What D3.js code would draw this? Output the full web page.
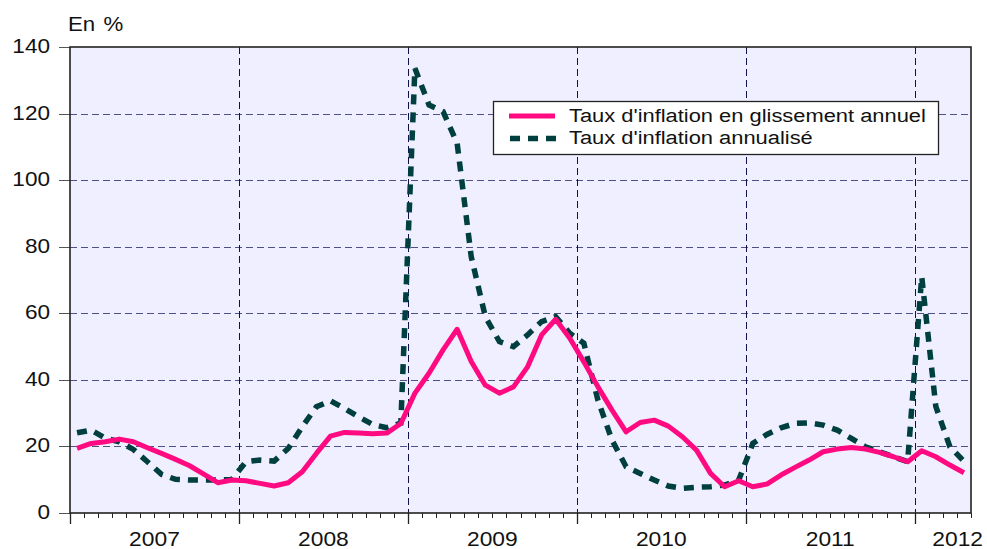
<!DOCTYPE html>
<html>
<head>
<meta charset="utf-8">
<script src="https://cdn.jsdelivr.net/npm/d3@7"></script>
<style>
  body { margin: 0; background: #fff; }
  text { font-family: "Liberation Sans", Arial, sans-serif; fill: #111; }
</style>
</head>
<body>
<svg id="chart" width="987" height="549"></svg>
<script>
// monthly series, jan 2007 -> apr 2012
var years = ["2007", "2008", "2009", "2010", "2011", "2012"];
var yTicks = [0, 20, 40, 60, 80, 100, 120, 140];

var glissement = [
  19.4, 20.9, 21.4, 22.2, 21.4, 19.6, 17.9, 16.1, 14.2, 11.7, 9.1, 9.9,
  9.7, 8.9, 8.1, 9.1, 12.4, 17.9, 23.1, 24.2, 24.0, 23.8, 24.0, 26.9,
  36.0, 42.0, 49.0, 55.2, 45.5, 38.4, 36.0, 37.9, 43.9, 53.5, 58.2, 52.5,
  45.4, 37.9, 30.9, 24.4, 27.2, 27.9, 26.1, 22.9, 18.9, 11.9, 7.9, 9.7,
  7.9, 8.7, 11.4, 13.7, 15.9, 18.4, 19.2, 19.7, 19.2, 18.2, 16.9, 15.4,
  18.7, 16.9, 14.4, 12.1
];
var annualise = [
  24.1, 24.9, 22.5, 21.4, 19.1, 15.4, 11.6, 10.1, 9.9, 9.9, 9.9, 10.1,
  15.4, 15.9, 15.6, 19.4, 25.9, 31.9, 33.7, 31.4, 28.9, 26.6, 25.6, 27.0,
  133.6, 122.6, 120.6, 111.1, 77.0, 59.0, 51.5, 50.0, 53.5, 57.5, 59.0, 54.0,
  51.0, 33.9, 21.9, 13.9, 11.9, 9.9, 8.1, 7.4, 7.7, 7.9, 8.4, 9.9,
  20.9, 23.6, 25.6, 26.9, 27.1, 26.4, 24.9, 22.4, 19.9, 18.4, 16.9, 15.4,
  71.0, 32.0, 19.9, 15.5
];
var seriesNames = ["Taux d'inflation en glissement annuel", "Taux d'inflation annualisé"];

var W = 987, H = 549;
var plotL = 70, plotR = 971, plotT = 47, plotB = 513;
var SX = 1.14; // text is drawn a bit wider than the font
var PINK = "#ff0a80", TEAL = "#003f3f";

var svg = d3.select("#chart");
var nMonths = glissement.length;

var x = d3.scaleLinear().domain([0, nMonths]).range([plotL, plotR]);
var y = d3.scaleLinear().domain([0, 140]).range([plotB, plotT]);

function wideText(g, px, py, txt, anchor, size) {
  return g.append("text")
    .attr("transform", "translate(" + px + "," + py + ") scale(" + SX + ",1)")
    .attr("text-anchor", anchor)
    .style("font-size", size + "px")
    .text(txt);
}

// plot background
svg.append("rect")
  .attr("x", plotL).attr("y", plotT)
  .attr("width", plotR - plotL).attr("height", plotB - plotT)
  .attr("fill", "#efefff");

// horizontal grid
svg.append("g").selectAll("line")
  .data(yTicks.filter(function(d){ return d > 0 && d < 140; }))
  .enter().append("line")
  .attr("x1", plotL).attr("x2", plotR)
  .attr("y1", function(d){ return Math.round(y(d)) + 0.5; })
  .attr("y2", function(d){ return Math.round(y(d)) + 0.5; })
  .attr("stroke", "#505088")
  .attr("stroke-dasharray", "7,4");

// vertical grid at year starts
svg.append("g").selectAll("line")
  .data(d3.range(1, years.length))
  .enter().append("line")
  .attr("x1", function(d){ return Math.round(x(d * 12)) + 0.5; })
  .attr("x2", function(d){ return Math.round(x(d * 12)) + 0.5; })
  .attr("y1", plotT).attr("y2", plotB)
  .attr("stroke", "#10104a")
  .attr("stroke-dasharray", "7,4");

// y axis ticks + labels
var yAx = svg.append("g");
yAx.selectAll("line")
  .data(yTicks)
  .enter().append("line")
  .attr("x1", plotL - 11).attr("x2", plotL)
  .attr("y1", function(d){ return Math.round(y(d)) + 0.5; })
  .attr("y2", function(d){ return Math.round(y(d)) + 0.5; })
  .attr("stroke", "#555");
yTicks.forEach(function(d) {
  wideText(yAx, 50, y(d) + 6, String(d), "end", 19.8);
});

// x axis month ticks
var xAx = svg.append("g");
xAx.selectAll("line")
  .data(d3.range(0, nMonths + 1))
  .enter().append("line")
  .attr("x1", function(d){ return Math.round(x(d)) + 0.5; })
  .attr("x2", function(d){ return Math.round(x(d)) + 0.5; })
  .attr("y1", plotB)
  .attr("y2", function(d){ return d % 12 === 0 ? plotB + 11 : plotB + 5; })
  .attr("stroke", "#222")
  .attr("stroke-width", function(d){ return d % 12 === 0 ? 1.3 : 1; });

var yearBase = 545.5;
years.forEach(function(yr, i) {
  var t = wideText(xAx, 0, yearBase, yr, "middle", 20);
  var w = t.node().getComputedTextLength() * SX;
  var cx = Math.min(x(i * 12 + 6), W - 4 - w / 2);
  t.attr("transform", "translate(" + cx + "," + yearBase + ") scale(" + SX + ",1)");
});

// frame
svg.append("rect")
  .attr("x", plotL).attr("y", plotT)
  .attr("width", plotR - plotL).attr("height", plotB - plotT)
  .attr("fill", "none")
  .attr("stroke", "#222")
  .attr("stroke-width", 1.6);

// series
var line = d3.line()
  .x(function(d, i){ return x(i + 0.5); })
  .y(function(d){ return y(d); });

svg.append("path")
  .datum(annualise)
  .attr("d", line)
  .attr("fill", "none")
  .attr("stroke", TEAL)
  .attr("stroke-width", 5.5)
  .attr("stroke-dasharray", "10,8");

svg.append("path")
  .datum(glissement)
  .attr("d", line)
  .attr("fill", "none")
  .attr("stroke", PINK)
  .attr("stroke-width", 5)
  .attr("stroke-linejoin", "round");

// unit label
wideText(svg, 68, 30.5, "En %", "start", 19.5)
  .style("word-spacing", "2px");

// legend
var lg = svg.append("g");
lg.append("rect")
  .attr("x", 493.5).attr("y", 101.5)
  .attr("width", 445).attr("height", 53)
  .attr("fill", "#fff")
  .attr("stroke", "#222")
  .attr("stroke-width", 1.3);
lg.append("line")
  .attr("x1", 509).attr("x2", 555)
  .attr("y1", 116).attr("y2", 116)
  .attr("stroke", PINK).attr("stroke-width", 5);
lg.append("line")
  .attr("x1", 510).attr("x2", 556)
  .attr("y1", 138.5).attr("y2", 138.5)
  .attr("stroke", TEAL).attr("stroke-width", 5.5)
  .attr("stroke-dasharray", "10,8");
wideText(lg, 569, 122.3, seriesNames[0], "start", 19.2);
wideText(lg, 569, 144.3, seriesNames[1], "start", 19.2);
</script>
</body>
</html>
